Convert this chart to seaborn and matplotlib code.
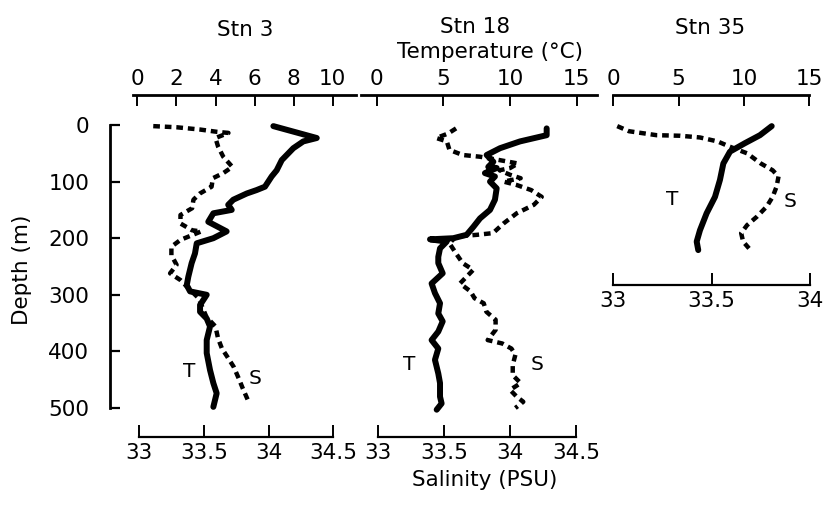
import matplotlib
matplotlib.use("Agg")
import matplotlib.pyplot as plt
import seaborn as sns

sns.set_theme(style="white")
plt.rcParams["font.family"] = ["DejaVu Sans"]
plt.rcParams["text.color"] = "black"
plt.rcParams["xtick.color"] = "black"
plt.rcParams["ytick.color"] = "black"

# ── data ───────────────────────────────────────────────────────────────────
# Stn 3
stn3_t_depth = [2, 23, 29, 41, 62, 80, 91, 109, 115, 121, 132, 141, 150, 156, 171, 188,
                200, 209, 227, 244, 268, 283, 294, 300, 318, 330, 342, 356, 380, 403,
                433, 456, 474, 498]
stn3_t = [6.96, 9.18, 8.49, 7.98, 7.39, 7.13, 6.87, 6.53, 6.10, 5.60, 4.91, 4.65, 4.83,
          3.89, 3.63, 4.57, 3.89, 3.04, 2.95, 2.78, 2.61, 2.53, 2.70, 3.55, 3.21, 3.21,
          3.55, 3.72, 3.55, 3.55, 3.72, 3.89, 4.06, 3.89]
stn3_s_depth = [2, 4, 8, 12, 14, 23, 38, 56, 74, 85, 94, 109, 121, 132, 147, 159, 174,
                186, 188, 203, 215, 230, 247, 262, 274, 288, 306, 339, 356, 377, 395,
                409, 427, 448, 465, 486]
stn3_s = [33.11, 33.29, 33.47, 33.60, 33.69, 33.59, 33.61, 33.65, 33.72, 33.65, 33.57,
          33.56, 33.47, 33.42, 33.41, 33.32, 33.32, 33.41, 33.48, 33.32, 33.25, 33.25,
          33.29, 33.24, 33.32, 33.38, 33.46, 33.52, 33.59, 33.61, 33.64, 33.68, 33.73,
          33.77, 33.80, 33.84]

# Stn 18
stn18_t_depth = [6, 18, 29, 41, 53, 65, 74, 76, 85, 91, 100, 112, 132, 150, 165, 180,
                 194, 200, 202, 206, 218, 233, 244, 262, 280, 297, 315, 333, 347, 365,
                 380, 395, 415, 439, 456, 480, 492, 503]
stn18_t = [12.75, 12.75, 10.75, 9.25, 8.25, 8.75, 8.37, 9.00, 8.12, 8.87, 8.50, 9.00,
           8.87, 8.50, 7.75, 7.25, 6.75, 5.75, 4.00, 5.25, 4.75, 4.62, 4.62, 4.95, 4.12,
           4.37, 4.75, 4.62, 4.95, 4.62, 4.12, 4.62, 4.37, 4.62, 4.75, 4.75, 4.87, 4.50]
stn18_s_depth = [6, 15, 23, 29, 44, 53, 56, 62, 68, 76, 80, 88, 94, 100, 106, 115, 127,
                 141, 156, 174, 191, 194, 197, 209, 227, 244, 256, 268, 280, 294, 306,
                 315, 330, 344, 362, 380, 386, 395, 406, 424, 442, 456, 468, 480, 489,
                 500]
stn18_s = [33.59, 33.53, 33.44, 33.52, 33.54, 33.64, 33.77, 33.92, 34.06, 34.00, 33.92,
           34.00, 34.08, 33.95, 34.05, 34.16, 34.24, 34.18, 34.05, 33.95, 33.87, 33.75,
           33.59, 33.54, 33.59, 33.64, 33.72, 33.67, 33.62, 33.70, 33.73, 33.80, 33.82,
           33.89, 33.89, 33.83, 33.94, 34.01, 34.04, 34.02, 34.02, 34.08, 34.00, 34.05,
           34.10, 34.04]

# Stn 35
stn35_t_depth = [2, 18, 32, 47, 68, 97, 127, 156, 186, 206, 221]
stn35_t = [12.12, 11.22, 10.08, 8.93, 8.42, 8.16, 7.78, 7.14, 6.63, 6.38, 6.50]
stn35_s_depth = [2, 11, 18, 19, 22, 29, 38, 50, 68, 80, 91, 109, 127, 144, 162, 177,
                 191, 206, 218]
stn35_s = [33.02, 33.08, 33.22, 33.34, 33.44, 33.53, 33.59, 33.68, 33.75, 33.81, 33.84,
           33.83, 33.81, 33.78, 33.73, 33.68, 33.65, 33.66, 33.69]

temp_ticks_3 = [0, 2, 4, 6, 8, 10]
temp_ticks_wide = [0, 5, 10, 15]
sal_ticks_wide = [33, 33.5, 34, 34.5]
sal_ticks_35 = [33, 33.5, 34]
depth_ticks = [0, 100, 200, 300, 400, 500]

W, H = 825, 509
FS = 15.5


def px_rect(x0, x1, y0, y1):
    return [x0 / W, 1 - y1 / H, (x1 - x0) / W, (y1 - y0) / H]


def profile(rect, t, t_depth, s, s_depth, tlim, tbounds, tticks, slim, sticks,
            ylim, tpos, spos, depth_axis=False):
    ax = fig.add_axes(rect)
    ax.set_facecolor("none")
    axt = ax.twiny()
    axt.set_facecolor("none")

    sns.lineplot(x=s, y=s_depth, sort=False, estimator=None, ax=ax, color="black",
                 lw=3.2, linestyle=(0, (1.5, 1.1)))
    sns.lineplot(x=t, y=t_depth, sort=False, estimator=None, ax=axt, color="black",
                 lw=4.3, solid_capstyle="round", solid_joinstyle="round")

    ax.set_xlim(*slim)
    axt.set_xlim(*tlim)
    ax.set_ylim(*ylim)
    for a in (ax, axt):
        a.set_xlabel("")
        a.set_ylabel("")
        for sp in a.spines.values():
            sp.set_visible(False)

    ax.spines["bottom"].set_visible(True)
    ax.spines["bottom"].set_bounds(sticks[0], sticks[-1])
    ax.spines["bottom"].set_linewidth(1.6)
    ax.spines["bottom"].set_color("black")
    ax.set_xticks(sticks)
    ax.set_xticklabels([f"{v:g}" for v in sticks])
    ax.tick_params(axis="x", bottom=True, direction="in", length=8.5, width=1.4,
                   pad=4, labelsize=FS, colors="black")

    axt.spines["top"].set_visible(True)
    axt.spines["top"].set_bounds(*tbounds)
    axt.spines["top"].set_linewidth(2)
    axt.spines["top"].set_color("black")
    axt.set_xticks(tticks)
    axt.set_xticklabels([f"{v:g}" for v in tticks])
    axt.tick_params(axis="x", top=True, direction="in", length=8, width=1.4,
                    pad=4, labelsize=FS, colors="black")

    if depth_axis:
        ax.spines["left"].set_visible(True)
        ax.spines["left"].set_bounds(0, 500)
        ax.spines["left"].set_linewidth(2)
        ax.spines["left"].set_color("black")
        ax.set_yticks(depth_ticks)
        ax.tick_params(axis="y", left=True, direction="in", length=7, width=1.6,
                       pad=15, labelsize=FS, colors="black")
    else:
        ax.tick_params(axis="y", left=False, labelleft=False)

    ax.text(*tpos, "T", fontsize=FS - 1, ha="center", va="center")
    ax.text(*spos, "S", fontsize=FS - 1, ha="center", va="center")
    return ax, axt


fig = plt.figure(figsize=(W / 100, H / 100), dpi=100)

# y pixel -> depth: 0 m at y=125 px, 0.566 px per metre
d_top = (95 - 125) / 0.566
d_bot = (437 - 125) / 0.566
d_bot35 = (285 - 125) / 0.566

profile(px_rect(110, 360, 95, 437), stn3_t, stn3_t_depth, stn3_s, stn3_s_depth,
        tlim=((110 - 137.3) / 19.55, (360 - 137.3) / 19.55), tbounds=(-0.2, 11.2),
        tticks=temp_ticks_3,
        slim=(33 + (110 - 139) / 129.6, 33 + (360 - 139) / 129.6), sticks=sal_ticks_wide,
        ylim=(d_bot, d_top), tpos=(33.39, 436), spos=(33.895, 447), depth_axis=True)

profile(px_rect(358, 600, 95, 437), stn18_t, stn18_t_depth, stn18_s, stn18_s_depth,
        tlim=((358 - 376.7) / 13.33, (600 - 376.7) / 13.33), tbounds=(-1.2, 16.5),
        tticks=temp_ticks_wide,
        slim=(33 + (358 - 378.3) / 131.8, 33 + (600 - 378.3) / 131.8), sticks=sal_ticks_wide,
        ylim=(d_bot, d_top), tpos=(33.233, 424), spos=(34.204, 424))

profile(px_rect(605, 820, 95, 285), stn35_t, stn35_t_depth, stn35_s, stn35_s_depth,
        tlim=((605 - 613.3) / 13.07, (820 - 613.3) / 13.07), tbounds=(0, 15),
        tticks=temp_ticks_wide,
        slim=(33 + (605 - 613.3) / 196.7, 33 + (820 - 613.3) / 196.7), sticks=sal_ticks_35,
        ylim=(d_bot35, d_top), tpos=(33.298, 132), spos=(33.898, 136))

fig.text(245 / W, 1 - 30 / H, "Stn 3", fontsize=FS, ha="center", va="center")
fig.text(475 / W, 1 - 27 / H, "Stn 18", fontsize=FS, ha="center", va="center")
fig.text(490 / W, 1 - 52 / H, "Temperature (°C)", fontsize=FS, ha="center", va="center")
fig.text(710 / W, 1 - 28 / H, "Stn 35", fontsize=FS, ha="center", va="center")
fig.text(485 / W, 1 - 480 / H, "Salinity (PSU)", fontsize=FS, ha="center", va="center")
fig.text(22 / W, 1 - 270 / H, "Depth (m)", fontsize=FS, ha="center", va="center",
         rotation=90)

fig.savefig("out.png", dpi=100, facecolor="white")
